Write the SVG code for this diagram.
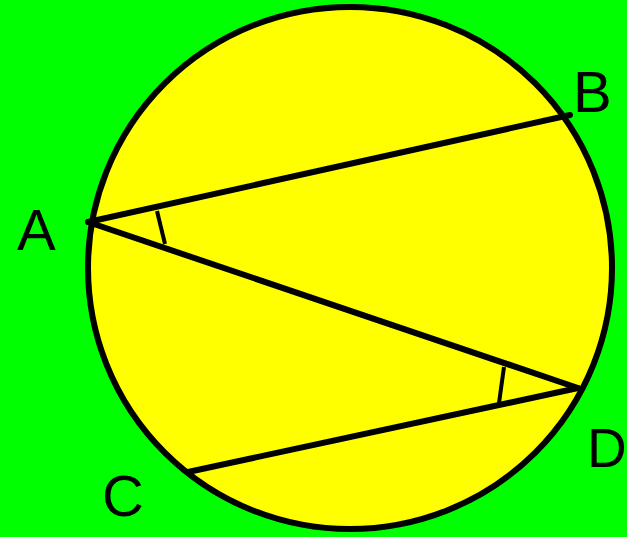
<svg xmlns="http://www.w3.org/2000/svg" width="627" height="537" viewBox="0 0 627 537">
<style>
.ln{stroke:#000;stroke-width:6;stroke-linecap:round;fill:none}
.mk{stroke:#000;stroke-width:4;fill:none}
.lb{font-family:"Liberation Sans",Arial,sans-serif;font-size:58px;fill:#000}
</style>
<rect width="627" height="537" fill="#00ff00"/>
<g id="circle">
<ellipse cx="350" cy="268" rx="262" ry="261" fill="#ffff00" stroke="#000" stroke-width="6"/>
</g>
<g id="connectors">
<line class="ln" x1="88" y1="222" x2="570" y2="115"/>
<line class="ln" x1="88" y1="222" x2="578" y2="388"/>
<line class="ln" x1="578" y1="388" x2="188" y2="472"/>
<line class="mk" x1="157" y1="211" x2="165" y2="244"/>
<line class="mk" x1="504" y1="367" x2="499" y2="403"/>
</g>
<g id="A"><text class="lb" x="17" y="250">A</text></g>
<g id="B"><text class="lb" x="573" y="112">B</text></g>
<g id="C"><text class="lb" x="102" y="516">C</text></g>
<g id="D"><text class="lb" x="587" y="467" style="font-size:55px">D</text></g>
</svg>
